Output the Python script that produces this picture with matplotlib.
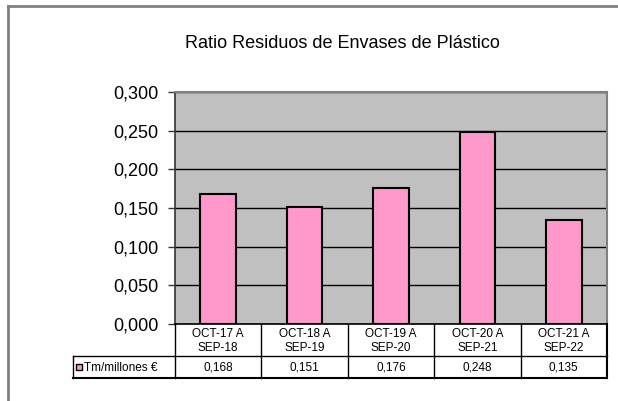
import matplotlib
matplotlib.use("Agg")
import matplotlib.pyplot as plt
from matplotlib.lines import Line2D
from matplotlib.patches import Rectangle

# data
periods = ["OCT-17 A\nSEP-18", "OCT-18 A\nSEP-19", "OCT-19 A\nSEP-20",
           "OCT-20 A\nSEP-21", "OCT-21 A\nSEP-22"]
ratios = [0.168, 0.151, 0.176, 0.248, 0.135]
series_name = "Tm/millones €"
y_ticks = [0.0, 0.05, 0.10, 0.15, 0.20, 0.25, 0.30]

W, H = 618, 401
PINK = "#FF99CC"
GRAYBG = "#C0C0C0"
FRAME = "#808080"

plt.rcParams['font.family'] = ['Liberation Sans', 'DejaVu Sans']

fig = plt.figure(figsize=(W / 100, H / 100), dpi=100)
fig.patch.set_facecolor("white")


def fx(px):
    return px / W


def fy(py):
    return 1 - py / H


# plot area in pixels
L, R, T, B = 175, 607, 92, 324
ax = fig.add_axes([fx(L), fy(B), fx(R) - fx(L), fy(T) - fy(B)])
ax.set_facecolor(GRAYBG)

x = list(range(len(ratios)))
ax.bar(x, ratios, width=0.41, color=PINK, edgecolor="black", linewidth=1.5, zorder=3)

ax.set_xlim(-0.5, len(ratios) - 0.5)
ax.set_ylim(0, 0.30)
ax.set_yticks(y_ticks)
ax.set_yticklabels([f"{v:.3f}".replace(".", ",") for v in y_ticks], fontsize=13)
ax.set_xticks([])
ax.tick_params(axis="y", direction="out", length=5, width=1, pad=7, color="#333333")
ax.grid(axis="y", color="black", linewidth=1, zorder=1)
ax.set_axisbelow(True)

for side in ("top", "right"):
    ax.spines[side].set_color(FRAME)
    ax.spines[side].set_linewidth(1.5)
ax.spines["left"].set_color("#333333")
ax.spines["bottom"].set_color("black")
for side in ("left", "bottom"):
    ax.spines[side].set_linewidth(1.2)

# title
fig.text(fx(342), fy(44), "Ratio Residuos de Envases de Plástico",
         ha="center", va="center", fontsize=13)

# outer frame (only top and left visible)
fig.add_artist(Line2D([fx(8), fx(8)], [fy(6), fy(H + 5)], color=FRAME, lw=2))
fig.add_artist(Line2D([fx(8), fx(W + 5)], [fy(6), fy(6)], color=FRAME, lw=2))

# data table below the plot
row1_bot, row2_bot = 356, 378
leg_left = 73
col_w = (R - L) / len(ratios)


def hline(x0, x1, y, lw=1.0):
    fig.add_artist(Line2D([fx(x0), fx(x1)], [fy(y), fy(y)], color="black", lw=lw))


def vline(xp, y0, y1, lw=1.0):
    fig.add_artist(Line2D([fx(xp), fx(xp)], [fy(y0), fy(y1)], color="black", lw=lw))


hline(leg_left, R, row1_bot)
hline(leg_left, R, row2_bot, lw=1.5)
vline(leg_left, row1_bot, row2_bot)
for i in range(len(ratios) + 1):
    xp = L + i * col_w
    vline(xp, B, row2_bot, lw=1.5 if i == len(ratios) else 1.0)

for i, (lab, val) in enumerate(zip(periods, ratios)):
    cx = L + (i + 0.5) * col_w
    fig.text(fx(cx), fy((B + row1_bot) / 2 + 1), lab, ha="center", va="center",
             fontsize=8.5, linespacing=1.15)
    fig.text(fx(cx), fy((row1_bot + row2_bot) / 2 + 1), f"{val:.3f}".replace(".", ","),
             ha="center", va="center", fontsize=8.5)

# legend key in the table
key_y = (row1_bot + row2_bot) / 2
fig.add_artist(Rectangle((fx(76), fy(key_y + 3)), fx(6), fy(0) - fy(6),
                         facecolor=PINK, edgecolor="black", lw=1))
fig.text(fx(84), fy(key_y + 1), series_name, ha="left", va="center", fontsize=8.5)

fig.savefig("out.png", dpi=100)
